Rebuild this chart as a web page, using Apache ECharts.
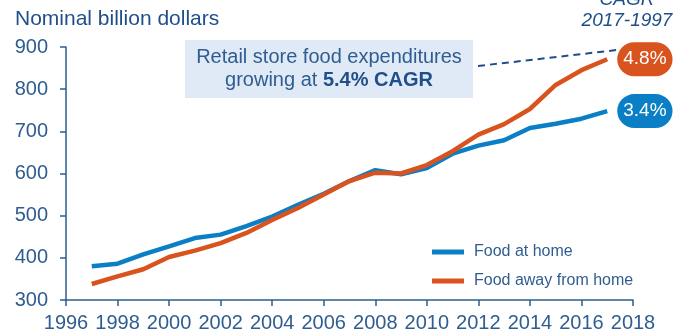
<!DOCTYPE html>
<html><head><meta charset="utf-8">
<script src="https://cdn.jsdelivr.net/npm/echarts@6/dist/echarts.min.js"></script>
<style>html,body{margin:0;padding:0;background:#fff}#c{width:693px;height:333px}</style>
</head><body><div id="c"></div>
<script>
var years = [1997,1998,1999,2000,2001,2002,2003,2004,2005,2006,2007,2008,2009,2010,2011,2012,2013,2014,2015,2016,2017];
var foodAtHome = [380,386,408,427,447,455,475,498,526,552,582,608,598,613,647,666,679,708,718,730,748];
var foodAway   = [338,356,373,402,417,435,459,490,518,550,582,602,600,620,653,692,717,753,810,845,871];
var seriesNames = ['Food at home','Food away from home'];
var cagrLabels = ['3.4%','4.8%'];
var yTicks = {min:300,max:900,interval:100};
var xTicks = {min:1996,max:2018,interval:2};

var axisColor = '#2d5c8f';
var labelColor = '#2f5d90';
var blue = '#0a7fc6';
var orange = '#d9531e';
var font = 'Liberation Sans';

function pairs(v){ return years.map(function(y,i){return [y,v[i]];}); }

var chart = echarts.init(document.getElementById('c'));
chart.setOption({
  animation:false,
  textStyle:{fontFamily:font},
  grid:{left:66,right:60,top:47,bottom:33},
  xAxis:{type:'value',min:xTicks.min,max:xTicks.max,interval:xTicks.interval,
    axisLine:{lineStyle:{color:axisColor,width:1.5}},
    axisTick:{show:true,length:6,lineStyle:{color:axisColor,width:1.5}},
    splitLine:{show:false},
    axisLabel:{color:labelColor,fontSize:20,margin:13,fontFamily:font,formatter:function(v){return String(v);}}},
  yAxis:{type:'value',min:yTicks.min,max:yTicks.max,interval:yTicks.interval,
    axisLine:{show:true,lineStyle:{color:axisColor,width:1.5}},
    axisTick:{show:true,length:6,lineStyle:{color:axisColor,width:1.5}},
    splitLine:{show:false},
    axisLabel:{color:labelColor,fontSize:20,margin:18,fontFamily:font}},
  legend:{orient:'vertical',left:427,top:239,itemGap:13,itemWidth:32,itemHeight:5,icon:'rect',
    textStyle:{color:labelColor,fontSize:16,fontFamily:font,padding:[0,0,0,5]},
    data:seriesNames},
  series:[
    {name:seriesNames[0],type:'line',data:pairs(foodAtHome),showSymbol:false,symbol:'none',
     lineStyle:{color:blue,width:4.5},itemStyle:{color:blue},z:2,
     endLabel:{show:true,formatter:cagrLabels[0],color:'#fff',fontSize:19,fontFamily:font,
       backgroundColor:blue,borderRadius:17,padding:[8,6,7,6],distance:10}},
    {name:seriesNames[1],type:'line',data:pairs(foodAway),showSymbol:false,symbol:'none',
     lineStyle:{color:orange,width:4.5},itemStyle:{color:orange},z:3,
     endLabel:{show:true,formatter:cagrLabels[1],color:'#fff',fontSize:19,fontFamily:font,
       backgroundColor:orange,borderRadius:17,padding:[8,6,7,6],distance:10}}
  ],
  graphic:[
    {type:'text',left:15,top:9,style:{text:'Nominal billion dollars',fill:'#1f4e89',font:'21px "Liberation Sans"'}},
    {type:'text',x:627,y:-10,style:{text:'CAGR',fill:'#1f4e89',font:'italic 19px "Liberation Sans"',textAlign:'center'}},
    {type:'text',x:627,y:11,style:{text:'2017-1997',fill:'#1f4e89',font:'italic 19px "Liberation Sans"',textAlign:'center'}},
    {type:'rect',shape:{x:185,y:40,width:288,height:58},style:{fill:'#dfeaf6'}},
    {type:'text',x:329,y:47,style:{text:'Retail store food expenditures',fill:'#2f5d90',font:'20px "Liberation Sans"',textAlign:'center'}},
    {type:'text',x:329,y:70,style:{rich:{a:{fill:'#2f5d90',fontSize:20,fontFamily:font},b:{fill:'#1f4e89',fontSize:20,fontFamily:font,fontWeight:'bold'}},text:'{a|growing at }{b|5.4% CAGR}',textAlign:'center'}},
    {type:'line',shape:{x1:478,y1:66,x2:617,y2:50},style:{stroke:'#1f4e89',lineWidth:2,lineDash:[7,5]}}
  ]
});
</script></body></html>
